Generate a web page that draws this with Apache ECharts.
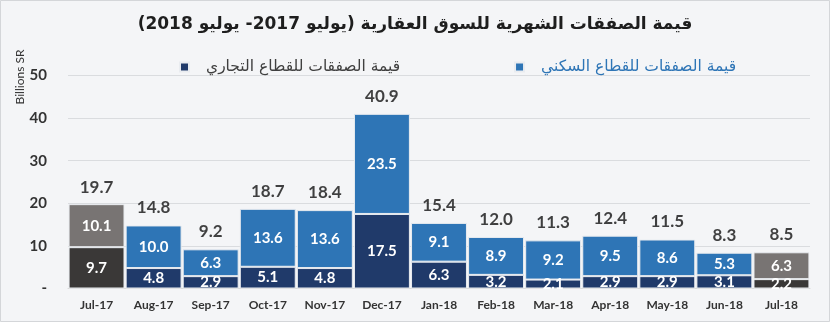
<!DOCTYPE html>
<html>
<head>
<meta charset="utf-8">
<script src="https://cdn.jsdelivr.net/npm/echarts@6/dist/echarts.min.js"></script>
<style>
  html, body { margin: 0; padding: 0; background: #f4f5f7; }
  #chart { width: 830px; height: 322px; }
</style>
</head>
<body>
<div id="chart"></div>
<script>
// Monthly real-estate transaction value, billions SR
const months = ['Jul-17', 'Aug-17', 'Sep-17', 'Oct-17', 'Nov-17', 'Dec-17', 'Jan-18',
                'Feb-18', 'Mar-18', 'Apr-18', 'May-18', 'Jun-18', 'Jul-18'];
const commercial = [9.7, 4.8, 2.9, 5.1, 4.8, 17.5, 6.3, 3.2, 2.1, 2.9, 2.9, 3.1, 2.2];
const residential = [10.1, 10.0, 6.3, 13.6, 13.6, 23.5, 9.1, 8.9, 9.2, 9.5, 8.6, 5.3, 6.3];
const totals = [19.7, 14.8, 9.2, 18.7, 18.4, 40.9, 15.4, 12.0, 11.3, 12.4, 11.5, 8.3, 8.5];
const yTicks = [0, 10, 20, 30, 40, 50];

const titleText = 'قيمة الصفقات الشهرية للسوق العقارية (يوليو 2017- يوليو 2018)';
const nameCommercial = 'قيمة الصفقات للقطاع التجاري';
const nameResidential = 'قيمة الصفقات للقطاع السكني';

// Months shown in grey tones (same month, one year apart)
const greyMonths = ['Jul-17', 'Jul-18'];

const numFont = 'Lato, "Open Sans", sans-serif';
const arFont = '"DejaVu Sans", sans-serif';

const C_COM = '#203a6a', C_RES = '#2e75b6';
const C_GREY_COM = '#3a3837', C_GREY_RES = '#787473';

function styled(values, normal, grey) {
  return values.map((v, i) => ({
    value: v,
    itemStyle: { color: greyMonths.includes(months[i]) ? grey : normal }
  }));
}

const innerLabel = {
  show: true, position: 'inside', color: '#ffffff',
  fontFamily: numFont, fontWeight: 'bold', fontSize: 15,
  formatter: p => p.value.toFixed(1)
};

const chart = echarts.init(document.getElementById('chart'));
chart.setOption({
  backgroundColor: '#f4f5f7',
  animation: false,
  title: {
    text: titleText, left: 'center', top: 11,
    textStyle: { fontFamily: arFont, fontWeight: 'bold', fontSize: 17, color: '#1e1e1e' }
  },
  legend: {
    left: 174, top: 54, itemWidth: 9, itemHeight: 9, itemGap: 114,
    icon: 'rect',
    data: [
      { name: nameCommercial, textStyle: { color: '#404040' } },
      { name: nameResidential, textStyle: { color: '#2e75b6' } }
    ],
    textStyle: { fontFamily: arFont, fontSize: 15.5, padding: [0, 0, 0, 12] }
  },
  grid: { left: 68, right: 20, top: 75.5, bottom: 33.5 },
  xAxis: {
    type: 'category', data: months,
    axisTick: { show: false },
    axisLine: { lineStyle: { color: '#d9d9d9' } },
    axisLabel: { color: '#333', fontFamily: numFont, fontWeight: 'bold', fontSize: 12, margin: 11 }
  },
  yAxis: {
    type: 'value', min: yTicks[0], max: yTicks[yTicks.length - 1], interval: 10,
    axisLine: { show: false }, axisTick: { show: false },
    splitLine: { lineStyle: { color: '#dadcdf' } },
    axisLabel: {
      color: '#333', fontFamily: numFont, fontWeight: 'bold', fontSize: 15, margin: 21,
      formatter: v => v === 0 ? '-' : String(v)
    }
  },
  graphic: [
    {
      type: 'text', x: 20, y: 77, rotation: Math.PI / 2,
      style: { text: 'Billions SR', fill: '#333', font: '12px ' + numFont, align: 'center', verticalAlign: 'middle' }
    },
    {
      type: 'rect', silent: true, z: 100,
      shape: { x: 0.5, y: 0.5, width: 829, height: 321 },
      style: { fill: 'none', stroke: '#d4d6d9', lineWidth: 1 }
    }
  ],
  series: [
    {
      name: nameCommercial, type: 'bar', stack: 'total', barCategoryGap: '2%',
      itemStyle: { color: C_COM, borderColor: '#e9ecf0', borderWidth: 1 },
      data: styled(commercial, C_COM, C_GREY_COM),
      label: innerLabel
    },
    {
      name: nameResidential, type: 'bar', stack: 'total', barCategoryGap: '2%',
      itemStyle: { color: C_RES, borderColor: '#e9ecf0', borderWidth: 1 },
      data: styled(residential, C_RES, C_GREY_RES),
      label: innerLabel
    },
    {
      name: 'total', type: 'scatter', symbolSize: 0, data: totals, z: 10,
      label: {
        show: true, position: 'top', distance: 9, color: '#111111',
        fontFamily: numFont, fontWeight: 'bold', fontSize: 17,
        formatter: p => p.value.toFixed(1)
      }
    }
  ]
});
</script>
</body>
</html>
